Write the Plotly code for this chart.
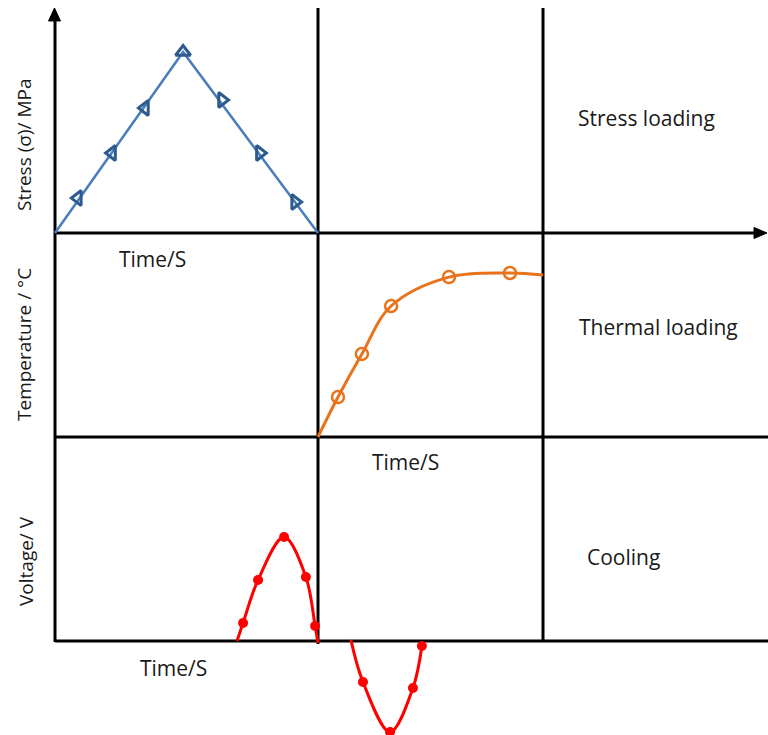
import plotly.graph_objects as go

W, H = 768, 735

# ---------------- data ----------------
# Stress loading panel (time in s, stress in MPa, arbitrary scale)
stress_line_t = [0.0, 4.87, 10.0]
stress_line_v = [0.0, 100.0, 0.0]
stress_marker_t = [0.87, 2.17, 3.42, 4.87, 6.35, 7.79, 9.13]
stress_marker_v = [19.3, 44.2, 69.1, 100.0, 73.5, 44.2, 17.1]
stress_marker_symbols = ["triangle-left-open", "triangle-left-open", "triangle-left-open",
                         "triangle-up-open", "triangle-right-open", "triangle-right-open",
                         "triangle-right-open"]

# Thermal loading panel (time in s, temperature in °C)
temp_line_t = [10.0, 10.76, 11.67, 12.78, 14.98, 17.30, 18.56]
temp_line_v = [0.0, 19.5, 40.5, 63.9, 78.0, 80.0, 79.0]
temp_marker_t = [10.76, 11.67, 12.78, 14.98, 17.30]
temp_marker_v = [19.5, 40.5, 63.9, 78.0, 80.0]

# Cooling panel (time in s, voltage in V)
volt1_t = [6.92, 7.15, 7.72, 8.71, 9.54, 9.89, 10.0]
volt1_v = [0.0, 0.171, 0.581, 0.99, 0.61, 0.143, -0.02]
volt2_t = [11.25, 11.71, 12.74, 13.61, 13.95]
volt2_v = [0.01, -0.39, -0.867, -0.448, -0.048]
volt_marker_t = [7.15, 7.72, 8.71, 9.54, 9.89, 11.71, 12.74, 13.61, 13.95]
volt_marker_v = [0.171, 0.581, 0.99, 0.61, 0.143, -0.39, -0.867, -0.448, -0.048]

time_label = "Time/S"
panel_labels = ["Stress loading", "Thermal loading", "Cooling"]
axis_titles = ["Stress (σ)/ MPa", "Temperature / °C", "Voltage/ V"]

# ---------------- layout geometry (pixels) ----------------
X0 = 55            # time origin pixel
X_PER_S = 26.3     # pixels per second
XV1, XV2 = 318, 543
Y_BASE = [233, 437, 641]          # baselines of the three panels
Y_SCALE = [1.81, 2.05, 105.0]     # pixels per unit in each panel

x_range = [(0 - X0) / X_PER_S, (W - X0) / X_PER_S]


def y_range(base, scale):
    return [(base - H) / scale, base / scale]


def px(x):
    return x / W


def py(y):
    return 1 - y / H


fig = go.Figure()

blue_line = "#4A7EBB"
blue_mark = "#2E5B8E"
orange = "#E8731B"
red = "#FF0000"

fig.add_trace(go.Scatter(x=stress_line_t, y=stress_line_v, mode="lines",
                         line=dict(color=blue_line, width=2.5), yaxis="y",
                         showlegend=False, hoverinfo="skip"))
fig.add_trace(go.Scatter(x=stress_marker_t, y=stress_marker_v, mode="markers",
                         marker=dict(symbol=stress_marker_symbols, size=13, color=blue_mark,
                                     line=dict(width=3, color=blue_mark)),
                         yaxis="y", showlegend=False))

fig.add_trace(go.Scatter(x=temp_line_t, y=temp_line_v, mode="lines",
                         line=dict(color=orange, width=3, shape="spline", smoothing=1.0),
                         yaxis="y2", showlegend=False, hoverinfo="skip"))
fig.add_trace(go.Scatter(x=temp_marker_t, y=temp_marker_v, mode="markers",
                         marker=dict(symbol="circle-open", size=12, color=orange,
                                     line=dict(width=2.5, color=orange)),
                         yaxis="y2", showlegend=False))

fig.add_trace(go.Scatter(x=volt1_t, y=volt1_v, mode="lines",
                         line=dict(color=red, width=3, shape="spline", smoothing=1.0),
                         yaxis="y3", showlegend=False, hoverinfo="skip"))
fig.add_trace(go.Scatter(x=volt2_t, y=volt2_v, mode="lines",
                         line=dict(color=red, width=3, shape="spline", smoothing=1.0),
                         yaxis="y3", showlegend=False, hoverinfo="skip"))
fig.add_trace(go.Scatter(x=volt_marker_t, y=volt_marker_v, mode="markers",
                         marker=dict(symbol="circle", size=10, color=red),
                         yaxis="y3", showlegend=False))

# ---------------- frame lines ----------------
shapes = []


def seg(x0, y0, x1, y1, w=3):
    shapes.append(dict(type="line", xref="paper", yref="paper",
                       x0=px(x0), y0=py(y0), x1=px(x1), y1=py(y1),
                       line=dict(color="black", width=w), layer="below"))


seg(X0, 18, X0, 642)
seg(XV1, 8, XV1, 644)
seg(XV2, 8, XV2, 641)
seg(X0, Y_BASE[0], 757, Y_BASE[0])
seg(X0, Y_BASE[1], W, Y_BASE[1])
seg(X0, Y_BASE[2], W, Y_BASE[2])


def tri(pts):
    path = "M " + " L ".join(f"{px(a):.5f},{py(b):.5f}" for a, b in pts) + " Z"
    shapes.append(dict(type="path", xref="paper", yref="paper", path=path,
                       fillcolor="black", line=dict(color="black", width=1), layer="below"))


tri([(54.5, 8), (48.5, 21), (60.5, 21)])
tri([(767, 233), (754, 227.5), (754, 238.5)])

# ---------------- text ----------------
annos = []
font_main = dict(family="Open Sans", size=21, color="#1a1a1a")
font_axis = dict(family="Open Sans", size=19, color="#1a1a1a")


def txt(s, x, y, font, angle=0):
    annos.append(dict(text=s, xref="paper", yref="paper", x=px(x), y=py(y),
                      xanchor="center", yanchor="middle", showarrow=False,
                      font=font, textangle=angle))


txt(time_label, 152, 259, font_main)
txt(time_label, 405, 462, font_main)
txt(time_label, 173, 668, font_main)
txt(panel_labels[0], 646, 118, font_main)
txt(panel_labels[1], 658, 327, font_main)
txt(panel_labels[2], 623, 557, font_main)
txt(axis_titles[0], 24, 145, font_axis, -90)
txt(axis_titles[1], 24, 345, font_axis, -90)
txt(axis_titles[2], 26, 561, font_axis, -90)

hidden = dict(visible=False, showgrid=False, zeroline=False, fixedrange=True)
fig.update_layout(
    width=W, height=H,
    margin=dict(l=0, r=0, t=0, b=0),
    paper_bgcolor="white", plot_bgcolor="white",
    xaxis=dict(range=x_range, domain=[0, 1], **hidden),
    yaxis=dict(range=y_range(Y_BASE[0], Y_SCALE[0]), domain=[0, 1], **hidden),
    yaxis2=dict(range=y_range(Y_BASE[1], Y_SCALE[1]), overlaying="y", **hidden),
    yaxis3=dict(range=y_range(Y_BASE[2], Y_SCALE[2]), overlaying="y", **hidden),
    shapes=shapes, annotations=annos, showlegend=False,
)

fig.write_html("out.html", config={"displayModeBar": False},
               post_script="document.body.style.margin='0px';")
